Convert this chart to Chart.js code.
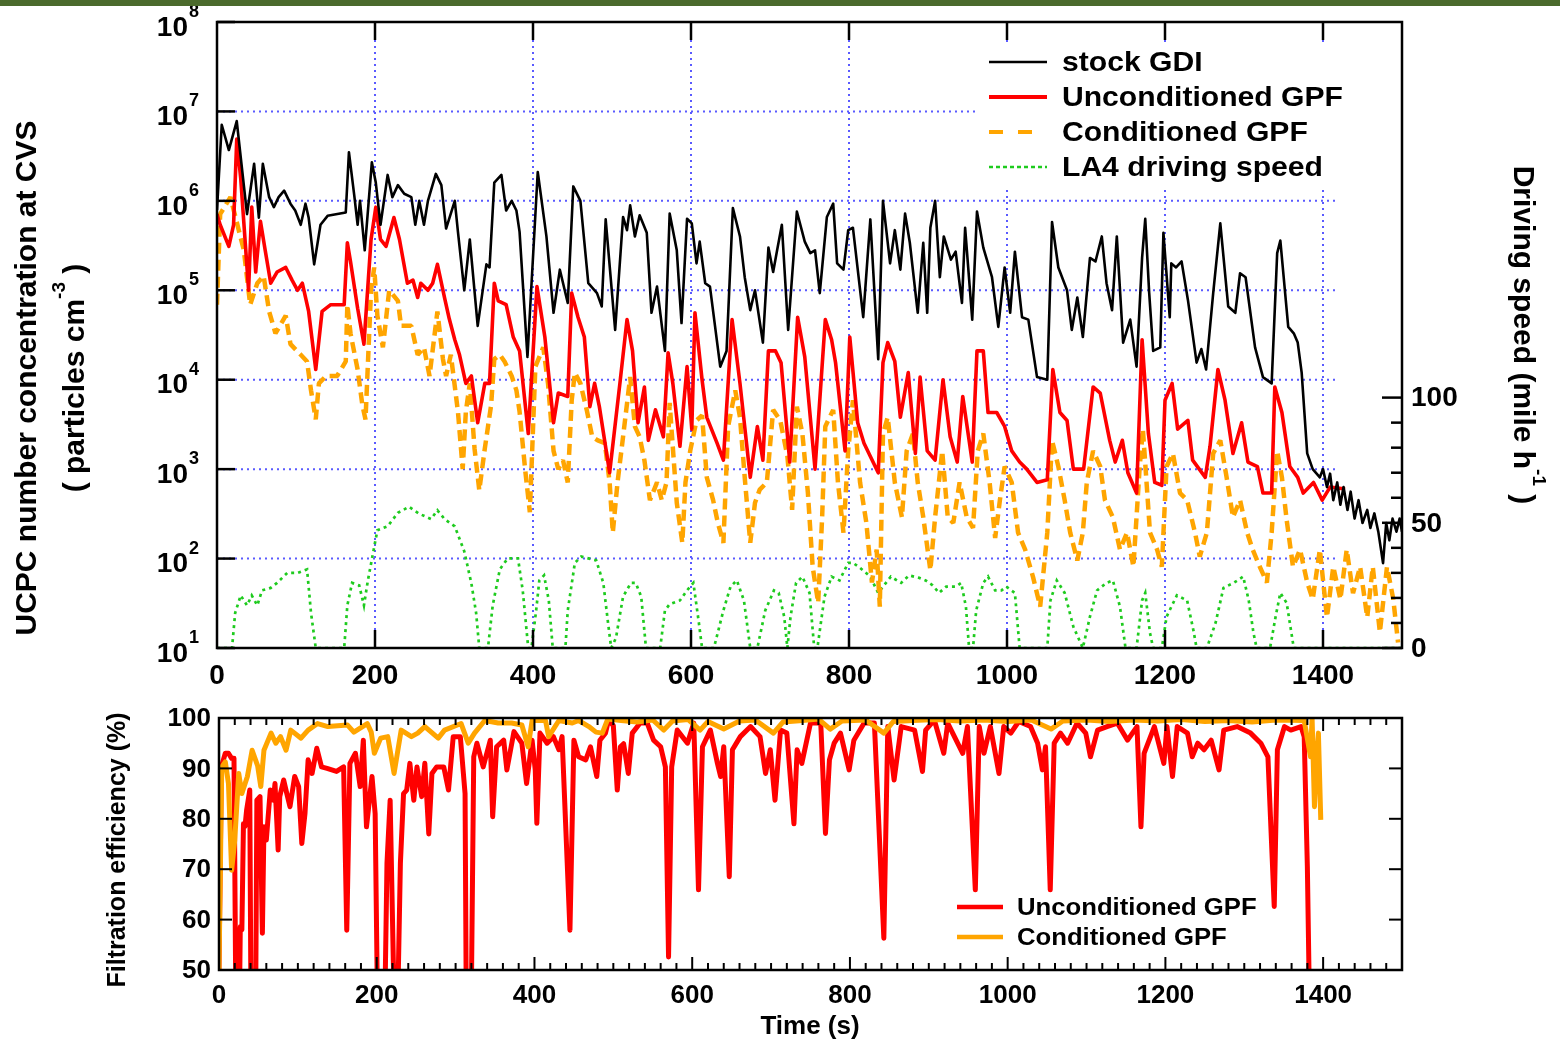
<!DOCTYPE html>
<html><head><meta charset="utf-8">
<script src="https://cdn.jsdelivr.net/npm/chart.js@4.4.1/dist/chart.umd.min.js"></script>
<style>
html,body{margin:0;padding:0;background:#fff;}
#wrap{position:relative;width:1560px;height:1040px;overflow:hidden;background:#fff;}
#bar{position:absolute;left:0;top:0;width:1560px;height:6px;background:#4b6a2c;z-index:3;}
#top{position:absolute;left:0;top:0;}
#bot{position:absolute;left:0;top:690px;}
</style></head><body>
<div id="wrap"><canvas id="top" width="1560" height="690"></canvas><canvas id="bot" width="1560" height="350"></canvas><div id="bar"></div></div>
<script>
// ---------------- DATA ----------------
const stockTime = [0,6,15,25,38,47,53,58,66,72,78,85,93,99,106,112,116,123,131,140,163,167,174,178,181,187,196,201,207,216,222,229,237,246,251,256,262,267,277,284,290,301,305,313,320,330,341,345,351,360,366,373,379,383,393,406,417,426,434,444,451,460,470,481,487,492,504,514,519,523,529,535,544,550,557,567,573,582,588,595,601,607,611,618,624,637,645,653,662,668,675,681,691,698,704,709,715,723,734,744,751,757,763,772,780,785,793,799,805,818,827,837,843,852,858,865,871,877,887,894,899,903,909,915,920,929,935,943,947,956,962,970,981,989,997,1004,1010,1019,1027,1038,1051,1057,1065,1076,1082,1089,1096,1105,1112,1120,1126,1133,1139,1147,1156,1164,1171,1175,1180,1185,1194,1198,1206,1208,1214,1221,1229,1240,1246,1252,1261,1270,1280,1289,1295,1302,1314,1324,1335,1342,1346,1356,1363,1368,1373,1380,1387,1396,1400,1405,1409,1413,1418,1422,1426,1431,1435,1440,1445,1450,1456,1460,1465,1470,1476,1480,1484,1488,1493,1497,1500];
const stockGdi = [7.9e5,7.1e6,3.7e6,7.8e6,7.1e5,2.6e6,6.5e5,2.6e6,1.1e6,8.5e5,1.1e6,1.3e6,9.3e5,7.8e5,5.4e5,9.3e5,6.5e5,1.95e5,5.4e5,6.8e5,7.4e5,3.5e6,1.1e6,5.4e5,1.0e6,2.8e5,2.7e6,1.6e6,5.4e5,1.95e6,1.1e6,1.5e6,1.2e6,1.1e6,5.4e5,1.0e6,5.4e5,1.0e6,2.0e6,1.5e6,4.9e5,1.0e6,4.5e5,1.0e5,3.7e5,4.0e4,1.95e5,1.8e5,1.6e6,1.95e6,7.8e5,1.0e6,7.8e5,4.5e5,1.8e4,2.1e6,4.0e5,5.6e4,1.7e5,7.2e4,1.45e6,1.0e6,1.2e5,9.3e4,6.6e4,6.2e5,3.6e4,6.6e5,4.7e5,8.9e5,4.0e5,6.9e5,4.4e5,5.6e4,1.1e5,2.1e4,7.2e5,2.8e5,4.3e4,6.3e5,5.6e5,2.0e5,3.5e5,1.2e5,1.1e5,1.4e4,2.1e4,8.3e5,4.0e5,1.4e5,6.0e4,1.0e5,2.6e4,3.0e5,1.6e5,2.8e5,5.4e5,3.6e4,7.6e5,3.5e5,2.6e5,2.8e5,9.3e4,6.6e5,9.3e5,2.0e5,1.7e5,4.7e5,5.0e5,5.0e4,6.2e5,1.7e4,1.0e6,2.0e5,4.7e5,1.7e5,7.2e5,3.4e5,5.6e4,3.4e5,5.6e4,5.0e5,1.0e6,1.4e5,4.0e5,2.2e5,2.7e5,7.2e4,5.0e5,4.7e4,7.6e5,3.0e5,1.4e5,3.9e4,1.8e5,5.6e4,2.7e5,5.0e4,4.7e4,1.07e4,1.0e4,5.8e5,1.8e5,1.0e5,3.6e4,8.3e4,3.0e4,2.3e5,2.1e5,4.0e5,1.2e5,6.0e4,4.0e5,2.6e4,4.7e4,1.4e4,2.3e5,6.3e5,9.3e4,2.1e4,2.3e4,4.4e5,5.0e4,2.0e5,1.8e5,2.1e5,7.8e4,1.55e4,2.2e4,1.3e4,9.3e4,5.6e5,6.6e4,5.6e4,1.55e5,1.4e5,2.3e4,1.07e4,9.1e3,2.6e5,3.6e5,3.9e4,3.3e4,2.6e4,1.2e4,1.5e3,1.0e3,8.1e2,1.0e3,6.3e2,8.9e2,4.5e2,7.1e2,4.0e2,6.3e2,3.5e2,5.6e2,2.8e2,4.5e2,2.5e2,3.5e2,2.2e2,3.2e2,2.0e2,89,2.5e2,1.6e2,2.8e2,2.0e2,2.8e2,2.0e2];

const uncTime = [0,4,15,21,25,30,40,44,49,55,61,68,76,87,95,102,108,116,125,133,144,161,165,169,178,186,195,201,207,214,224,231,241,248,254,258,267,273,279,288,294,301,307,315,322,330,339,345,351,356,366,375,383,394,405,415,426,432,444,449,457,465,472,478,484,497,510,519,526,533,541,546,555,565,571,577,586,595,601,605,614,620,633,641,652,662,675,684,691,698,707,714,725,735,744,757,770,778,783,795,801,811,819,837,843,849,858,865,875,884,890,899,909,919,928,937,944,956,962,970,976,987,997,1006,1016,1025,1038,1051,1058,1067,1076,1084,1097,1109,1118,1130,1137,1146,1153,1164,1171,1179,1187,1196,1200,1209,1216,1229,1235,1251,1257,1267,1276,1286,1297,1305,1317,1324,1335,1339,1348,1358,1368,1375,1388,1399,1409,1428];
const uncGpf = [7.1e5,5.4e5,3.1e5,5.4e5,4.9e6,1.8e6,1.0e5,8.5e5,1.6e5,5.9e5,2.8e5,1.2e5,1.6e5,1.8e5,1.3e5,1.0e5,1.2e5,5.8e4,1.3e4,5.8e4,6.9e4,6.9e4,3.4e5,2.1e5,6.3e4,2.5e4,3.7e5,8.5e5,3.7e5,3.1e5,6.5e5,3.7e5,1.2e5,1.3e5,8.3e4,1.2e5,1.0e5,1.2e5,1.95e5,8.3e4,4.8e4,2.8e4,1.9e4,9.1e3,1.1e4,3.3e3,9.1e3,9.1e3,1.2e5,7.6e4,6.9e4,3.0e4,2.1e4,2.5e3,1.1e5,3.0e4,3.3e3,7.1e3,6.5e3,9.3e4,5.0e4,3.0e4,5.0e3,9.1e3,5.0e3,9.1e2,9.1e3,4.7e4,2.1e4,3.3e3,8.3e3,2.1e3,4.6e3,2.3e3,2.0e4,9.1e3,1.8e3,1.4e4,2.8e3,5.6e4,1.0e4,3.8e3,1.95e3,1.26e3,4.7e4,9.1e3,8.1e2,3.0e3,1.26e3,2.1e4,2.1e4,1.55e4,1.2e3,5.0e4,1.8e4,1.0e3,4.7e4,2.8e4,1.55e4,1.6e3,3.0e4,3.3e3,1.95e3,9.1e2,1.55e4,2.6e4,1.6e4,3.8e3,1.2e4,1.5e3,1.07e4,1.6e3,1.26e3,1.0e4,2.3e3,1.2e3,6.5e3,1.2e3,2.1e4,2.1e4,4.3e3,4.3e3,3.0e3,1.6e3,1.2e3,1.0e3,7.1e2,7.6e2,1.3e4,4.3e3,3.5e3,1.0e3,1.0e3,8.3e3,7.1e3,2.1e3,1.2e3,2.1e3,9.1e2,5.4e2,2.8e4,2.5e3,7.1e2,6.6e2,5.9e3,9.1e3,2.8e3,3.5e3,1.26e3,8.1e2,1.8e3,1.3e4,5.9e3,1.5e3,3.3e3,1.2e3,1.07e3,5.4e2,5.4e2,8.3e3,4.3e3,1.07e3,8.1e2,5.4e2,7.1e2,4.5e2,6.3e2,6.0e2];

const condTime = [0,4,17,34,42,51,59,66,74,87,93,106,114,119,125,129,138,152,163,165,169,178,184,188,195,199,203,210,218,229,233,246,254,262,269,279,286,290,296,305,311,315,320,326,332,339,347,351,358,364,373,379,383,390,396,403,413,419,426,432,438,444,449,453,460,468,475,482,491,497,501,507,514,523,529,535,541,548,557,563,569,573,582,589,593,599,607,614,620,628,634,641,647,656,662,668,675,681,687,696,704,713,722,728,734,741,748,754,761,766,770,780,786,793,799,805,814,822,829,835,839,843,849,858,867,873,881,887,894,903,909,918,925,932,940,949,957,963,970,978,985,991,997,1006,1014,1023,1033,1042,1051,1057,1065,1073,1080,1089,1096,1101,1109,1118,1124,1134,1143,1152,1160,1168,1172,1181,1190,1196,1202,1210,1219,1228,1238,1244,1253,1261,1270,1278,1286,1295,1304,1311,1320,1329,1335,1342,1348,1354,1362,1371,1380,1387,1396,1405,1413,1422,1430,1438,1447,1456,1463,1472,1481,1489,1495];
const condGpf = [6.9e4,7.1e5,1.1e6,2.8e5,6.9e4,1.2e5,1.45e5,5.8e4,3.3e4,5.2e4,2.5e4,1.9e4,1.6e4,7.6e3,3.6e3,9.1e3,1.1e4,1.1e4,1.6e4,6.9e4,3.3e4,1.3e4,5.2e3,3.6e3,1.0e5,1.8e5,5.2e4,2.3e4,1.0e5,7.6e4,4.0e4,4.0e4,1.9e4,2.3e4,1.1e4,5.8e4,1.7e4,1.1e4,1.9e4,4.4e3,1.0e3,4.4e3,9.1e3,1.7e3,5.8e2,1.7e3,5.2e3,1.7e4,1.9e4,1.6e4,1.1e4,7.6e3,4.4e3,1.0e3,3.3e2,1.4e4,2.3e4,9.1e3,1.6e3,1.0e3,1.26e3,7.1e2,5.9e3,1.2e4,9.1e3,4.6e3,2.3e3,2.1e3,1.95e3,7.1e2,1.95e2,7.1e2,2.3e3,1.07e4,3.0e3,2.3e3,1.26e3,4.5e2,7.1e2,4.5e2,7.1e2,5.5e3,4.2e2,1.5e2,7.1e2,1.6e3,3.5e3,4.0e3,8.1e2,4.5e2,2.5e2,1.5e2,3.0e3,7.6e3,3.8e3,8.1e2,1.5e2,4.2e2,5.9e2,7.1e2,4.6e3,3.5e3,1.4e3,3.5e2,5.0e3,2.5e3,5.4e2,81,32,2.9e2,3.0e3,4.6e3,7.1e2,1.95e2,1.6e3,5.9e3,7.1e2,2.5e2,54,1.26e2,29,2.5e3,3.8e3,7.1e2,2.9e2,1.6e3,2.5e3,7.1e2,2.9e2,74,2.9e2,1.6e3,2.9e2,2.5e2,7.1e2,2.9e2,2.2e2,1.6e3,2.5e3,7.1e2,1.7e2,4.5e2,1.07e3,7.1e2,1.95e2,1.26e2,62,29,1.95e2,2.1e3,1.07e3,4.5e2,1.95e2,95,1.95e2,7.1e2,1.6e3,1.07e3,4.5e2,2.9e2,1.26e2,1.95e2,81,1.07e3,2.8e3,1.95e2,1.26e2,81,1.07e3,1.5e3,5.4e2,4.5e2,1.95e2,1.05e2,1.95e2,1.5e3,2.1e3,8.1e2,2.9e2,4.5e2,1.95e2,1.26e2,81,54,1.95e2,1.6e3,8.1e2,2.7e2,81,1.26e2,54,35,1.26e2,22,81,35,1.26e2,41,81,22,81,15,81,35,11.5];

const speedTime = [0,19,23,30,38,44,51,57,68,76,89,102,114,119,125,161,165,171,180,186,191,197,203,216,229,243,256,271,279,288,301,313,322,328,332,343,349,358,368,381,387,394,398,404,408,414,420,425,441,444,453,461,480,489,495,499,505,514,524,530,537,543,561,567,573,586,595,603,610,614,629,641,650,658,667,675,684,694,705,711,718,722,726,733,741,750,756,760,769,778,788,799,805,814,827,833,837,843,853,866,876,889,897,906,914,923,935,942,948,952,957,961,970,976,985,993,999,1010,1016,1051,1055,1063,1073,1084,1096,1105,1114,1126,1134,1143,1150,1164,1171,1175,1181,1185,1196,1202,1215,1228,1236,1240,1253,1264,1274,1287,1299,1306,1312,1316,1333,1340,1346,1354,1363,1500];
const la4Speed = [0,0,14,21,17,21,17,23,24,26,30,30,31.4,14,0,0,17,26,25,17,27,37,47,48.6,54,56.4,53.6,51.5,55,51.5,48.6,38.6,25.8,14,0,0,17,31.4,35.8,35.8,23,0,0,15,27,29,19,0,0,15,34,36.5,35,26,10,0,4,20.5,26,26,20.5,0,0,15,17.5,19,23,26,10,0,0,15,24.5,27,19,0,0,15,23,22,12.5,0,12.5,26,28.5,22,0,0,20.5,28.5,27,34,34,32,28.5,24.5,22,24.5,28.5,26,29,28,27,25,22,24.5,24.5,26,16.5,0,0,15,26,28.5,23,23,24.5,22,0,0,19,27,22,8.5,0,12.5,23,26,27,16.5,0,0,19,22,6,0,0,12.5,21,19,7,0,0,10,24,26,28.5,19,6,0,0,12.5,22,18,0,0];

const effUncTime = [0,3,8,12,16,19,22,25,27,29,31,33,35,39,41,46,48,52,55,57,60,65,69,71,75,77,82,86,90,96,101,105,109,113,118,124,130,137,149,158,162,166,173,179,183,187,194,198,202,209,213,217,221,225,230,234,238,242,247,251,257,261,266,270,276,285,291,297,306,312,314,319,323,327,335,344,347,352,361,365,374,384,390,397,401,403,407,416,424,431,435,445,450,456,465,471,479,483,490,494,500,505,509,513,519,524,534,543,551,560,566,570,574,581,594,602,608,613,623,632,636,640,647,651,661,674,686,693,699,705,712,720,729,733,739,750,763,769,774,780,788,799,805,818,831,843,848,856,865,882,892,896,907,919,924,943,949,959,964,970,978,989,995,1004,1014,1029,1038,1044,1048,1054,1059,1067,1076,1088,1099,1105,1114,1126,1139,1152,1164,1169,1173,1186,1198,1202,1209,1215,1228,1234,1241,1249,1258,1268,1274,1291,1308,1321,1330,1338,1342,1351,1359,1372,1376,1380,1384];
const effUnc = [50,90.3,93,93,92,92,30,30,58.6,58,79,78.5,81.7,85.7,30,30,83.7,84.4,57.3,78.4,75.8,85.7,83.7,87,73.8,84.4,87.7,85,82.4,88.4,86.4,75.1,81,91.7,89,94,90.3,90,89.4,90.3,57.9,91,93,86.4,95.6,78.4,88.4,81,30,30,71.2,83.7,52,30,71.2,85,85.7,91,83.7,90.3,84.4,91,77,89,90.3,90.3,85.7,96.3,96.3,85,30,30,92.3,95,90.3,95.6,80.4,94.3,95.6,89.7,97.3,95,87,95.6,89.7,79.1,97,95,96.3,93.7,96.3,57.9,95.6,92.3,91.7,94.3,88.4,95.6,97,99.6,98.5,85.7,94.3,94.9,89,97,99,99,95.6,94.3,90.3,52.6,90.3,97.6,95,99,65.9,94.3,97.6,91,88.4,94.3,68.5,93.7,96.3,98.3,96.3,89,93.7,83.7,97.6,97,79,93.7,91,99,99,77.1,91.7,95,97,89.7,95.6,99,99,56.3,98.3,87.7,98.3,97.6,89.4,97.6,99.6,93,99,93,98.3,65.9,98.3,93,98.3,89,98.3,97,99.3,98.3,95,89.7,94.3,65.9,95,97,95,99,97,92.3,97.6,98.3,99,95.6,98.3,78.4,93,98.3,91,98.3,88.4,98.3,97,92.3,95,93.7,95.6,89.7,97.6,98.3,97,95,92.3,62.6,93.7,98.3,97.6,98.3,96.3,70.5,30];

const effCondTime = [0,1,3.5,8,12,16,20,25,29,36,42,49,53,57,66,72,78,85,91,104,113,125,138,163,171,188,193,197,205,214,222,231,244,252,261,278,286,307,316,324,337,354,371,384,392,397,414,418,431,448,456,469,478,486,493,510,530,550,564,575,595,610,620,640,660,680,703,715,740,760,775,790,820,843,855,880,910,940,970,1000,1030,1055,1070,1100,1130,1160,1190,1220,1250,1280,1310,1340,1376,1384,1386,1389,1392,1394,1397];
const effCond = [50,50,90.3,91.3,87,69.8,75.8,89,85,88.4,93.6,90.5,86.4,93.6,97,95,96.3,93.6,97.6,96,97.6,98.9,98.3,98.6,97.2,98.9,97.2,93,96,96.3,89,97.6,96.3,97,98.3,96,97.6,98.9,95,97,99.5,99,99,98.6,94.3,99.5,99.5,96.3,99.5,99,99.5,98.3,97.2,97,99.8,99.5,99.2,99.6,97.6,99.4,99.7,97.6,99.3,97.8,99.4,99.6,97,99.2,99.5,99.8,97.8,99.4,99.6,97,99.3,99.5,99.7,99.4,99.6,99.3,99.6,97.8,99.4,99.6,99.3,99.6,99.4,99.7,99.3,99.5,99.2,99.6,99.5,92.3,100,82.4,93,97,79.8];

const timeTicks = [0,200,400,600,800,1000,1200,1400];
const timeTickLabels = ['0','200','400','600','800','1000','1200','1400'];
const decadeTicks = [1e1,1e2,1e3,1e4,1e5,1e6,1e7,1e8];
const decadeExponents = ['1','2','3','4','5','6','7','8'];
const speedTicks = [0,50,100];
const speedTickLabels = ['0','50','100'];
const effTicks = [50,60,70,80,90,100];
const effTickLabels = ['50','60','70','80','90','100'];
const topLegendLabels = ['stock GDI','Unconditioned GPF','Conditioned GPF','LA4 driving speed'];
const botLegendLabels = ['Unconditioned GPF','Conditioned GPF'];

// ---------------- STYLE / HELPERS ----------------
const FONT = '"Liberation Sans", Arial, Helvetica, sans-serif';
const GRID_COLOR = '#5a5aff';
const C_BLACK = '#000000', C_RED = '#ff0000', C_ORANGE = '#ffa500', C_GREEN = '#1ecb1e';
const DASH_ORANGE = [11,6], DASH_GREEN = [3,4];

function pts(ts, vs){ return ts.map((t,i)=>({x:t, y:vs[i]})); }
function seg(ctx,x1,y1,x2,y2){ ctx.beginPath(); ctx.moveTo(x1,y1); ctx.lineTo(x2,y2); ctx.stroke(); }
function wideText(ctx, text, x, y, sx){ ctx.save(); ctx.translate(x, y); ctx.scale(sx, 1); ctx.fillText(text, 0, 0); ctx.restore(); }
function rich(ctx, parts, x, y, align, size, supSize, rise){
  let w = 0;
  parts.forEach(p=>{ ctx.font = 'bold '+(p[1]?supSize:size)+'px '+FONT; w += ctx.measureText(p[0]).width; });
  let cx = align==='center' ? x - w/2 : (align==='right' ? x - w : x);
  ctx.textAlign='left'; ctx.textBaseline='middle';
  parts.forEach(p=>{ ctx.font = 'bold '+(p[1]?supSize:size)+'px '+FONT; ctx.fillText(p[0], cx, p[1] ? y - rise : y); cx += ctx.measureText(p[0]).width; });
}

// ---------------- TOP CHART ----------------
const topPlugin = {
  id:'topPlugin',
  beforeDatasetsDraw(chart){
    const {ctx, chartArea:a, scales:{x,y}} = chart;
    ctx.save();
    ctx.strokeStyle = GRID_COLOR; ctx.lineWidth = 2; ctx.setLineDash([2,4]);
    const xe = x.getPixelForValue(1420);
    decadeTicks.forEach(v=>{ if(v<=1e1||v>=1e8) return; const py = y.getPixelForValue(v); seg(ctx,a.left,py,xe,py); });
    timeTicks.forEach(t=>{ if(t===0) return; const px = x.getPixelForValue(t); seg(ctx,px,a.top,px,a.bottom); });
    ctx.restore();
  },
  afterDatasetsDraw(chart){
    const {ctx, chartArea:a, scales:{x,y,y2}} = chart;
    ctx.save();
    // legend
    ctx.fillStyle = '#fff'; ctx.fillRect(978, 42, 370, 144);
    const ly = [62,97,132,167];
    const styles = [[C_BLACK,2.7,[]],[C_RED,4,[]],[C_ORANGE,4,[14,15]],[C_GREEN,2.7,[4,3]]];
    styles.forEach((s,i)=>{ ctx.strokeStyle=s[0]; ctx.lineWidth=s[1]; ctx.setLineDash(s[2]); seg(ctx,989,ly[i],1047,ly[i]); });
    ctx.setLineDash([]);
    ctx.fillStyle = '#000'; ctx.font = 'bold 28px '+FONT; ctx.textAlign='left'; ctx.textBaseline='middle';
    topLegendLabels.forEach((t,i)=>wideText(ctx, t, 1062, ly[i]+1, 1.075));
    // frame
    ctx.strokeStyle = '#000'; ctx.lineWidth = 2.5;
    ctx.strokeRect(a.left, a.top, a.right-a.left, a.bottom-a.top);
    timeTicks.forEach(t=>{ if(t===0) return; const px = x.getPixelForValue(t); seg(ctx,px,a.bottom,px,a.bottom-18); seg(ctx,px,a.top,px,a.top+18); });
    decadeTicks.forEach(v=>{ const py = y.getPixelForValue(v); seg(ctx,a.left,py,a.left+18,py); });
    for(let s=0; s<=100; s+=10){ const py = y2.getPixelForValue(s); const len = (s%50===0)?20:11; seg(ctx,a.right,py,a.right-len,py); }
    ctx.restore();
  },
  afterDraw(chart){
    const {ctx, scales:{x,y,y2}} = chart;
    ctx.save(); ctx.fillStyle = '#000';
    decadeTicks.forEach((v,i)=>{
      const py = y.getPixelForValue(v);
      ctx.font = 'bold 28px '+FONT; ctx.textAlign='right'; ctx.textBaseline='middle';
      ctx.fillText('10', 188, py+6);
      ctx.font = 'bold 18px '+FONT; ctx.textAlign='left';
      ctx.fillText(decadeExponents[i], 189, py-10);
    });
    ctx.font = 'bold 28px '+FONT; ctx.textAlign='center'; ctx.textBaseline='middle';
    timeTicks.forEach((t,i)=>ctx.fillText(timeTickLabels[i], x.getPixelForValue(t), 676));
    ctx.textAlign='left';
    speedTicks.forEach((s,i)=>ctx.fillText(speedTickLabels[i], 1411, y2.getPixelForValue(s)+1));
    // left title
    ctx.save(); ctx.translate(28, 378); ctx.rotate(-Math.PI/2);
    rich(ctx, [['UCPC number concentration at CVS',false]], 0, 0, 'center', 30, 18, 0);
    ctx.restore();
    ctx.save(); ctx.translate(76, 378); ctx.rotate(-Math.PI/2);
    rich(ctx, [['( particles cm',false],['-3',true],[' )',false]], 0, 0, 'center', 30, 19, 16);
    ctx.restore();
    // right title
    ctx.save(); ctx.translate(1522, 335); ctx.rotate(Math.PI/2);
    rich(ctx, [['Driving speed (mile h',false],['-1',true],[' )',false]], 0, 0, 'center', 30, 19, 16);
    ctx.restore();
    ctx.restore();
  }
};

new Chart(document.getElementById('top'), {
  type:'line',
  data:{ datasets:[
    {label:topLegendLabels[0], data:pts(stockTime,stockGdi), borderColor:C_BLACK, borderWidth:2.6, yAxisID:'y', borderJoinStyle:'round'},
    {label:topLegendLabels[1], data:pts(uncTime,uncGpf), borderColor:C_RED, borderWidth:3.6, yAxisID:'y', borderJoinStyle:'round'},
    {label:topLegendLabels[2], data:pts(condTime,condGpf), borderColor:C_ORANGE, borderWidth:4.5, borderDash:DASH_ORANGE, yAxisID:'y', borderJoinStyle:'bevel'},
    {label:topLegendLabels[3], data:pts(speedTime,la4Speed), borderColor:C_GREEN, borderWidth:2.7, borderDash:DASH_GREEN, yAxisID:'y2'}
  ]},
  options:{
    responsive:false, animation:false, devicePixelRatio:1,
    layout:{ padding:{top:22,left:0,right:0,bottom:0}, autoPadding:false },
    elements:{ point:{radius:0}, line:{tension:0, fill:false} },
    plugins:{ legend:{display:false}, tooltip:{enabled:false} },
    scales:{
      x:{ type:'linear', min:0, max:1500, ticks:{display:false}, grid:{display:false}, border:{display:false}, afterFit(s){ s.height = 42; } },
      y:{ type:'logarithmic', position:'left', min:10, max:1e8, ticks:{display:false}, grid:{display:false}, border:{display:false}, afterFit(s){ s.width = 217; } },
      y2:{ type:'linear', position:'right', min:0, max:250, ticks:{display:false}, grid:{display:false}, border:{display:false}, afterFit(s){ s.width = 158; } }
    }
  },
  plugins:[topPlugin]
});

// ---------------- BOTTOM CHART ----------------
const botPlugin = {
  id:'botPlugin',
  afterDatasetsDraw(chart){
    const {ctx, chartArea:a, scales:{x,y}} = chart;
    ctx.save();
    ctx.strokeStyle = '#000'; ctx.lineWidth = 2.5;
    ctx.strokeRect(a.left, a.top, a.right-a.left, a.bottom-a.top);
    ctx.lineWidth = 2;
    for(let t=20; t<1500; t+=20){ const px = x.getPixelForValue(t); const len = (t%200===0)?13:7; seg(ctx,px,a.bottom,px,a.bottom-len); seg(ctx,px,a.top,px,a.top+len); }
    effTicks.forEach(v=>{ const py = y.getPixelForValue(v); seg(ctx,a.left,py,a.left+13,py); seg(ctx,a.right,py,a.right-13,py); });
    // legend
    const ly = [217,247];
    [C_RED, C_ORANGE].forEach((c,i)=>{ ctx.strokeStyle=c; ctx.lineWidth=4.5; seg(ctx,957,ly[i],1003,ly[i]); });
    ctx.fillStyle='#000'; ctx.font='bold 24px '+FONT; ctx.textAlign='left'; ctx.textBaseline='middle';
    botLegendLabels.forEach((t,i)=>wideText(ctx, t, 1017, ly[i]+1, 1.07));
    ctx.restore();
  },
  afterDraw(chart){
    const {ctx, scales:{x,y}} = chart;
    ctx.save(); ctx.fillStyle='#000';
    ctx.font='bold 26px '+FONT; ctx.textBaseline='middle';
    ctx.textAlign='right';
    effTicks.forEach((v,i)=>ctx.fillText(effTickLabels[i], 211, y.getPixelForValue(v)+1));
    ctx.textAlign='center';
    timeTicks.forEach((t,i)=>ctx.fillText(timeTickLabels[i], x.getPixelForValue(t), 306));
    ctx.fillText('Time (s)', 810, 337);
    ctx.save(); ctx.translate(118, 160); ctx.rotate(-Math.PI/2);
    ctx.font='bold 25px '+FONT; ctx.textAlign='center'; ctx.fillText('Filtration efficiency (%)', 0, 0);
    ctx.restore();
    ctx.restore();
  }
};

new Chart(document.getElementById('bot'), {
  type:'line',
  data:{ datasets:[
    {label:botLegendLabels[1], data:pts(effCondTime,effCond), borderColor:C_ORANGE, borderWidth:5, borderJoinStyle:'round'},
    {label:botLegendLabels[0], data:pts(effUncTime,effUnc), borderColor:C_RED, borderWidth:5, borderJoinStyle:'round'}
  ]},
  options:{
    responsive:false, animation:false, devicePixelRatio:1,
    layout:{ padding:{top:28,left:0,right:158,bottom:0}, autoPadding:false },
    elements:{ point:{radius:0}, line:{tension:0, fill:false} },
    plugins:{ legend:{display:false}, tooltip:{enabled:false} },
    scales:{
      x:{ type:'linear', min:0, max:1500, ticks:{display:false}, grid:{display:false}, border:{display:false}, afterFit(s){ s.height = 70; } },
      y:{ type:'linear', min:50, max:100, ticks:{display:false}, grid:{display:false}, border:{display:false}, afterFit(s){ s.width = 219; } }
    }
  },
  plugins:[botPlugin]
});
</script>
</body></html>
